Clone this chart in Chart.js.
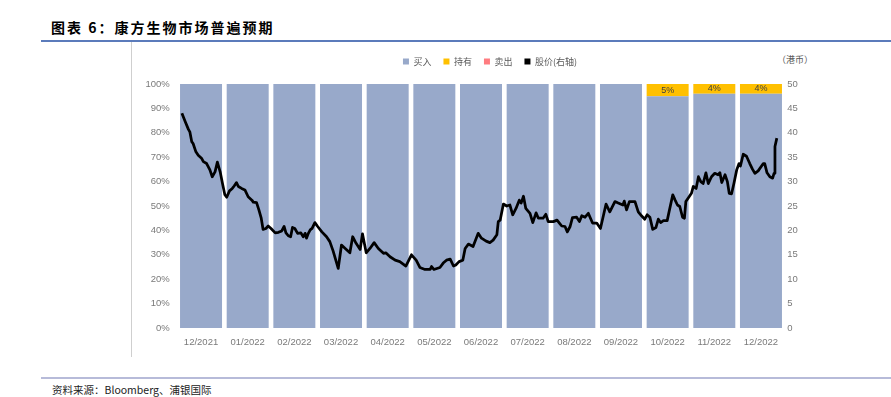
<!DOCTYPE html>
<html><head><meta charset="utf-8">
<script src="https://cdn.jsdelivr.net/npm/chart.js@4.4.1/dist/chart.umd.min.js"></script>
<style>
html,body{margin:0;padding:0;background:#fff;width:891px;height:397px;overflow:hidden;position:relative;font-family:"Noto Sans CJK SC",sans-serif;}
#title{position:absolute;left:51px;top:17px;font-size:14px;font-weight:700;letter-spacing:2px;line-height:20px;color:#000;white-space:nowrap;}
#rule1{position:absolute;left:41px;top:40px;width:850px;height:2px;background:#5b7bbb;}
#vline{position:absolute;left:131px;top:42px;width:1px;height:315px;background:#cfcfcf;}
#rule2{position:absolute;left:41px;top:377px;width:850px;height:2px;background:#b7bbd9;}
#source{position:absolute;left:52px;top:382px;font-size:10.5px;line-height:15px;color:#222;white-space:nowrap;}
#unit{position:absolute;left:777px;top:52px;font-size:9px;line-height:15px;color:#595959;white-space:nowrap;}
#wrap{position:absolute;left:131px;top:45px;width:718px;height:313px;}
</style></head>
<body>
<div id="title">图表 6：康方生物市场普遍预期</div>
<div id="rule1"></div>
<div id="vline"></div>
<div id="unit">（港币）</div>
<div id="wrap"><canvas id="c"></canvas></div>
<div id="rule2"></div>
<div id="source">资料来源：Bloomberg、浦银国际</div>
<script>
const categories = ['12/2021','01/2022','02/2022','03/2022','04/2022','05/2022','06/2022','07/2022','08/2022','09/2022','10/2022','11/2022','12/2022'];
const buyPct  = [100,100,100,100,100,100,100,100,100,100,95,96,96];
const holdPct = [0,0,0,0,0,0,0,0,0,0,5,4,4];
const sellPct = [0,0,0,0,0,0,0,0,0,0,0,0,0];
// months elapsed since 1 Dec 2021
const priceMonth = [0.09,0.16,0.23,0.26,0.30,0.33,0.39,0.44,0.51,0.55,
0.62,0.69,0.74,0.80,0.85,0.91,0.96,1.01,1.05,1.11,
1.17,1.21,1.26,1.30,1.37,1.44,1.51,1.59,1.62,1.69,
1.74,1.79,1.83,1.89,1.94,2.00,2.09,2.16,2.23,2.28,
2.32,2.37,2.42,2.46,2.51,2.57,2.64,2.69,2.73,2.76,
2.80,2.84,2.88,2.94,3.00,3.09,3.19,3.26,3.33,3.44,
3.51,3.59,3.69,3.75,3.82,3.91,3.96,4.04,4.12,4.21,
4.30,4.41,4.46,4.55,4.66,4.76,4.89,5.01,5.11,5.19,
5.30,5.41,5.44,5.49,5.62,5.69,5.76,5.84,5.91,5.96,
6.03,6.11,6.16,6.23,6.33,6.44,6.51,6.61,6.69,6.76,
6.84,6.87,6.91,6.98,7.05,7.12,7.18,7.25,7.32,7.36,
7.41,7.46,7.55,7.61,7.68,7.73,7.83,7.89,7.94,8.05,
8.13,8.18,8.23,8.30,8.35,8.41,8.46,8.55,8.61,8.66,
8.73,8.80,8.89,8.98,9.06,9.18,9.26,9.37,9.44,9.54,
9.57,9.62,9.68,9.80,9.87,9.94,10.01,10.06,10.12,10.18,
10.25,10.30,10.35,10.41,10.49,10.53,10.61,10.66,10.71,10.76,
10.82,10.86,10.89,10.96,11.01,11.05,11.11,11.16,11.21,11.26,
11.32,11.37,11.44,11.51,11.58,11.62,11.66,11.73,11.78,11.82,
11.87,11.92,11.98,12.03,12.06,12.12,12.19,12.26,12.32,12.37,
12.44,12.55,12.58,12.63,12.69,12.75,12.78,12.80,12.84];
const priceHKD = [44.0,42.3,40.7,40.2,38.2,37.8,36.1,35.4,34.8,34.1,
33.7,32.4,31.0,32.0,34.0,32.0,29.6,27.3,26.8,28.1,
28.6,29.1,29.8,29.0,28.6,28.3,26.9,26.2,25.8,25.7,
24.2,22.5,20.2,20.4,20.9,20.4,19.5,19.6,19.9,20.8,
19.5,18.9,18.7,20.6,20.4,19.4,19.5,18.7,19.4,18.4,
19.4,20.1,20.4,21.6,20.8,19.7,18.7,17.7,15.8,12.2,
17.0,16.3,15.4,18.7,17.4,16.1,19.3,15.4,16.3,17.5,
16.3,15.3,15.4,14.6,13.9,13.6,12.7,15.0,13.9,12.4,
12.0,12.0,12.6,12.0,12.4,13.3,13.9,14.1,12.7,12.9,
13.6,13.9,16.3,17.2,16.7,19.4,18.4,17.8,17.5,18.0,
19.1,21.8,22.1,25.4,25.0,25.2,23.2,24.5,26.2,25.6,
27.0,24.5,23.5,21.6,23.6,22.5,22.5,23.3,21.8,21.8,
22.1,21.5,20.9,20.8,19.7,20.8,22.6,22.7,21.8,23.0,
22.7,23.5,21.5,21.5,20.4,25.4,23.8,25.9,25.6,25.2,
26.0,24.2,25.9,25.9,23.8,23.0,22.3,23.2,22.7,20.2,
20.6,22.3,21.6,22.0,22.0,23.8,27.3,26.2,25.2,24.9,
22.7,22.5,25.9,26.9,27.6,29.0,28.6,31.0,30.0,29.6,
31.8,29.6,31.0,31.7,31.4,31.8,29.8,31.4,30.0,27.6,
27.5,29.6,32.4,33.7,33.2,35.6,35.2,33.7,32.5,31.7,
32.2,33.7,33.7,31.8,31.0,30.7,31.7,37.2,38.9];

const numFont = '"Liberation Sans", Arial, sans-serif';
const cjkFont = '"Noto Sans CJK SC", sans-serif';

const legendHeightFix = {
  id: 'legendHeightFix',
  beforeInit(chart) {
    const orig = chart.legend.fit;
    chart.legend.fit = function () { orig.bind(chart.legend)(); this.height = 39; };
  }
};
const segLabels = {
  id: 'segLabels',
  afterDatasetsDraw(chart) {
    const meta = chart.getDatasetMeta(1);
    const ctx = chart.ctx;
    ctx.save();
    ctx.font = '9px ' + numFont;
    ctx.fillStyle = '#404040';
    ctx.textAlign = 'center';
    ctx.textBaseline = 'middle';
    meta.data.forEach((bar, i) => {
      const v = holdPct[i];
      if (!v) return;
      const p = bar.getProps(['x', 'y', 'base'], true);
      ctx.fillText(v + '%', p.x, (p.y + p.base) / 2);
    });
    ctx.restore();
  }
};

const barCommon = { type: 'bar', borderWidth: 0, order: 1, yAxisID: 'y', xAxisID: 'x', barPercentage: 0.9, categoryPercentage: 1.0, grouped: false, stack: 'pct' };

new Chart(document.getElementById('c'), {
  type: 'bar',
  data: {
    labels: categories,
    datasets: [
      Object.assign({ label: '买入', data: buyPct, backgroundColor: '#98a9ca' }, barCommon),
      Object.assign({ label: '持有', data: holdPct, backgroundColor: '#ffc000' }, barCommon),
      Object.assign({ label: '卖出', data: sellPct, backgroundColor: '#ff7c80' }, barCommon),
      { type: 'line', label: '股价(右轴)', data: priceMonth.map((m, i) => ({ x: m, y: priceHKD[i] })), borderColor: '#000', backgroundColor: '#000', borderWidth: 2.75, pointRadius: 0, tension: 0, borderJoinStyle: 'round', order: 0, yAxisID: 'y1', xAxisID: 'xt' }
    ]
  },
  options: {
    responsive: true, maintainAspectRatio: false, animation: false,
    layout: { padding: 0 },
    plugins: {
      tooltip: { enabled: false },
      legend: {
        position: 'top', align: 'center',
        labels: {
          boxWidth: 6, boxHeight: 6, padding: 12, color: '#595959',
          font: { size: 9, family: cjkFont },
          sort: (a, b) => a.datasetIndex - b.datasetIndex,
          generateLabels(chart) {
            const items = Chart.defaults.plugins.legend.labels.generateLabels(chart);
            items.forEach(it => { it.lineWidth = 0; it.strokeStyle = 'rgba(0,0,0,0)'; });
            return items;
          }
        }
      }
    },
    scales: {
      x: {
        type: 'category', stacked: true, offset: true, position: 'bottom',
        grid: { display: false, drawTicks: false }, border: { display: false },
        ticks: { color: '#7a7a7a', font: { size: 9.5, family: numFont }, padding: 9, maxRotation: 0, autoSkip: false },
        afterFit(s) { s.height = 30; }
      },
      xt: {
        type: 'linear', display: false, min: 0, max: 13, offset: false, position: 'bottom',
        grid: { offset: false }
      },
      y: {
        type: 'linear', stacked: true, position: 'left', min: 0, max: 100,
        grid: { display: false, drawTicks: false }, border: { display: false },
        ticks: { stepSize: 10, color: '#7a7a7a', font: { size: 9.5, family: numFont }, padding: 8, callback: v => v + '%' },
        afterFit(s) { s.width = 46.7; }
      },
      y1: {
        type: 'linear', position: 'right', min: 0, max: 50,
        grid: { display: false, drawTicks: false }, border: { display: false },
        ticks: { stepSize: 5, color: '#7a7a7a', font: { size: 9.5, family: numFont }, padding: 3 },
        afterFit(s) { s.width = 64.7; }
      }
    }
  },
  plugins: [legendHeightFix, segLabels]
});
</script>
</body></html>
